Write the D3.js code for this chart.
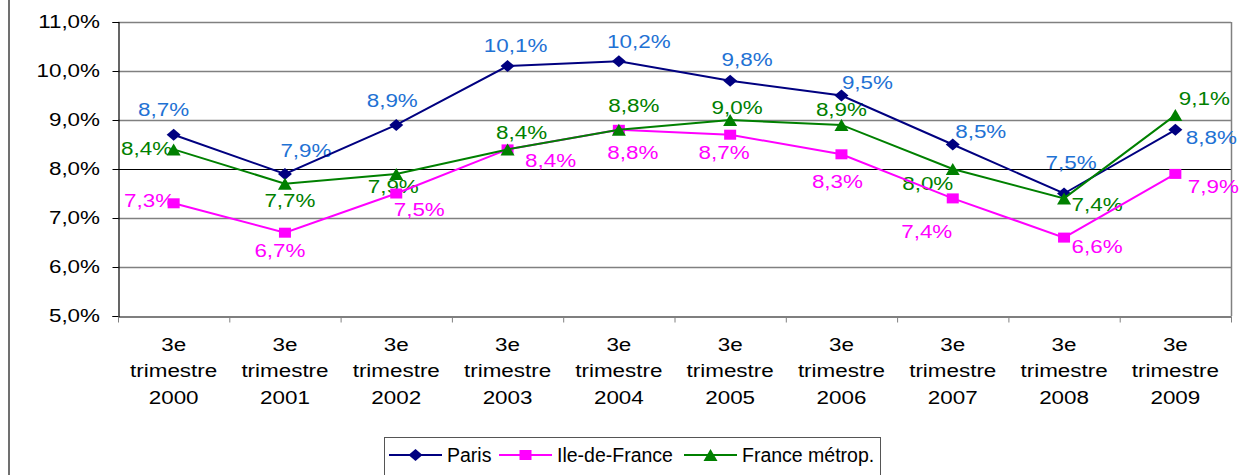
<!DOCTYPE html>
<html>
<head>
<meta charset="utf-8">
<script src="https://cdn.jsdelivr.net/npm/d3@7"></script>
<style>
  body { margin: 0; background: #fff; }
  text { font-family: "Liberation Sans", Arial, sans-serif; }
</style>
</head>
<body>
<svg id="chart" width="1239" height="475"></svg>
<script>
"use strict"

// ---- data ----
const years = ["2000", "2001", "2002", "2003", "2004", "2005", "2006", "2007", "2008", "2009"];
const paris = [8.7, 7.9, 8.9, 10.1, 10.2, 9.8, 9.5, 8.5, 7.5, 8.8];
const ileDeFrance = [7.3, 6.7, 7.5, 8.4, 8.8, 8.7, 8.3, 7.4, 6.6, 7.9];
const franceMetrop = [8.4, 7.7, 7.9, 8.4, 8.8, 9.0, 8.9, 8.0, 7.4, 9.1];
const yTicks = [5, 6, 7, 8, 9, 10, 11];

// label nudges (pixels from the point), placed by hand like in the original
const parisNudge = [[-10,-19],[21,-17],[-4,-18],[8,-14],[20,-13],[17,-15],[26,-7],[28,-7],[7,-25],[36,14]];
const idfNudge   = [[-24,4],[-5,24],[23,22],[43,18],[14,29],[-6,24],[-4,34],[-26,40],[33,15],[38,19]];
const franceNudge= [[-27,6],[5,23],[-3,19],[14,-10],[15,-18],[7,-6],[0,-9],[-25,21],[33,13],[29,-10]];

const series = [
  {name: "Paris", values: paris, line: "#000080", label: "#1F72D4", marker: "diamond", nudge: parisNudge},
  {name: "Ile-de-France", values: ileDeFrance, line: "#FF00FF", label: "#FF00FF", marker: "square", nudge: idfNudge},
  {name: "France métrop.", values: franceMetrop, line: "#008000", label: "#008000", marker: "triangle", nudge: franceNudge}
];

const svg = d3.select("#chart");
const plotLeft = 118, plotRight = 1231, plotTop = 22, plotBottom = 316;
const stretch = 1.18; // the original text is wider than it is tall

const x = d3.scaleBand().domain(years).range([plotLeft, plotRight]);
const xEdge = d3.scaleLinear().domain([0, years.length]).range([plotLeft, plotRight]);
const y = d3.scaleLinear().domain([5, 11]).range([plotBottom, plotTop]);

const fmt = v => d3.format(".1f")(v).replace(".", ",") + "%";

// stretched text helper
function label(g, px, py, str, color, anchor) {
  g.append("g")
    .attr("transform", `translate(${px},${py}) scale(${stretch},1)`)
    .append("text")
      .attr("text-anchor", anchor || "middle")
      .attr("font-size", "19px")
      .attr("fill", color || "#000")
      .text(str);
}

// outer border of the chart
svg.append("line")
  .attr("x1", 9).attr("x2", 9).attr("y1", 0).attr("y2", 475)
  .attr("stroke", "#404040").attr("stroke-width", 1.5);

// gridlines
svg.append("g")
  .selectAll("line")
  .data(yTicks.filter(d => d > 5))
  .join("line")
    .attr("x1", plotLeft).attr("x2", plotRight)
    .attr("y1", d => Math.round(y(d)) + 0.5).attr("y2", d => Math.round(y(d)) + 0.5)
    .attr("stroke", d => d === 8 ? "#000" : "#808080")
    .attr("stroke-width", d => d === 8 ? 1 : 1.5);

// right border of the plot
svg.append("line")
  .attr("x1", plotRight + 0.5).attr("x2", plotRight + 0.5)
  .attr("y1", y(11)).attr("y2", plotBottom)
  .attr("stroke", "#808080").attr("stroke-width", 1.5);

// y axis
const yAxis = svg.append("g")
  .attr("transform", `translate(${plotLeft + 0.5},0)`)
  .call(d3.axisLeft(y).tickValues(yTicks).tickSize(6).tickFormat(""));
yAxis.select(".domain").attr("stroke", "#000").attr("stroke-width", 1.2);
yAxis.selectAll(".tick line").attr("stroke", "#000");
const yLabels = svg.append("g");
yTicks.forEach(t => label(yLabels, 100, y(t) + 6, fmt(t), "#000", "end"));

// x axis with ticks between the categories
const xAxis = svg.append("g")
  .attr("transform", `translate(0,${plotBottom + 0.5})`)
  .call(d3.axisBottom(xEdge).tickValues(d3.range(years.length + 1)).tickSize(6).tickFormat("").tickSizeOuter(0));
xAxis.select(".domain").attr("stroke", "#000").attr("stroke-width", 1.2);
xAxis.selectAll(".tick line").attr("stroke", "#808080");

const xLabels = svg.append("g");
years.forEach(yr => {
  const cx = x(yr) + x.bandwidth() / 2;
  label(xLabels, cx, 351, "3e");
  label(xLabels, cx, 377, "trimestre");
  label(xLabels, cx, 404, yr);
});

// data labels drawn under the markers
const dataLabels = svg.append("g");
series.forEach(s => {
  s.values.forEach((v, i) => {
    const px = x(years[i]) + x.bandwidth() / 2;
    label(dataLabels, px + s.nudge[i][0], y(v) + s.nudge[i][1], fmt(v), s.label);
  });
});

// marker shapes
function drawMarker(g, kind, cx, cy, color) {
  if (kind === "diamond") {
    g.append("path").attr("d", `M${cx-7},${cy} L${cx},${cy-6} L${cx+7},${cy} L${cx},${cy+6} Z`).attr("fill", color);
  } else if (kind === "square") {
    g.append("rect").attr("x", cx - 6).attr("y", cy - 5).attr("width", 12).attr("height", 10).attr("fill", color);
  } else {
    g.append("path").attr("d", `M${cx-7},${cy+6} L${cx},${cy-6} L${cx+7},${cy+6} Z`).attr("fill", color);
  }
}

// lines and markers
const line = d3.line()
  .x((d, i) => x(years[i]) + x.bandwidth() / 2)
  .y(d => y(d));

series.forEach(s => {
  const g = svg.append("g");
  g.append("path")
    .datum(s.values)
    .attr("d", line)
    .attr("fill", "none")
    .attr("stroke", s.line)
    .attr("stroke-width", 2);
  s.values.forEach((v, i) => drawMarker(g, s.marker, x(years[i]) + x.bandwidth() / 2, y(v), s.line));
});

// legend
const legend = svg.append("g");
legend.append("rect")
  .attr("x", 384.5).attr("y", 437.5).attr("width", 496).attr("height", 50)
  .attr("fill", "#fff").attr("stroke", "#555").attr("stroke-width", 1);

const legendX = [389, 499, 684];
series.forEach((s, i) => {
  const lx = legendX[i], ly = 455;
  legend.append("line")
    .attr("x1", lx).attr("x2", lx + 53).attr("y1", ly).attr("y2", ly)
    .attr("stroke", s.line).attr("stroke-width", 2);
  drawMarker(legend, s.marker, lx + 26.5, ly, s.line);
  legend.append("text")
    .attr("x", lx + 58).attr("y", ly + 6.5)
    .attr("font-size", "19.5px")
    .text(s.name);
});
</script>
</body>
</html>
